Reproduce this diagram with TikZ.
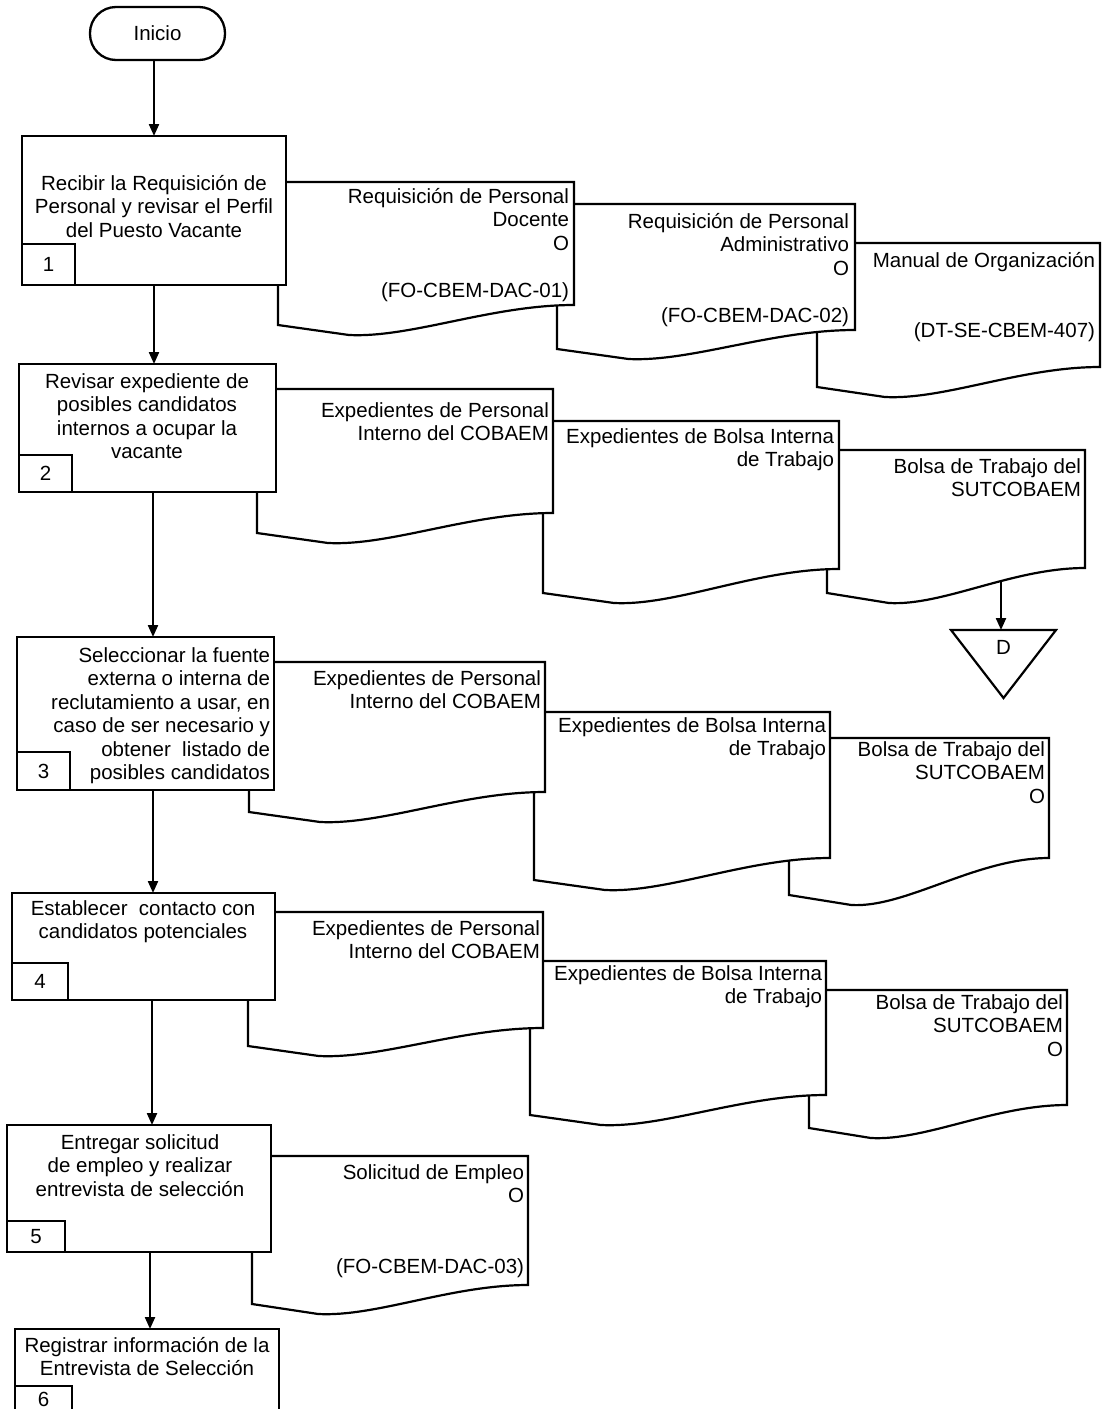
\documentclass[tikz,border=0pt]{standalone}
\usepackage{fontspec}
\setmainfont{Liberation Sans}
\usetikzlibrary{arrows.meta}

% document symbol: left, top, right, left-bottom, right-bottom
\newcommand{\docshape}[5]{%
  \pgfmathsetmacro\dw{#3-#1}%
  \path[docline] (#1,#2) -- (#3,#2) -- (#3,#5)
    .. controls ({#1+0.72*\dw},#5) and ({#1+0.45*\dw},{#4+13}) .. ({#1+0.24*\dw},{#4+10})
    -- (#1,#4) -- cycle;%
}
% process step: name, left, top, right, bottom, number-box right, number-box top, number, number centre y
\newcommand{\procstep}[9]{%
  \node[procbox, minimum width={#4-#2}, minimum height={#5-#3}] (#1) at ({(#2+#4)/2},{(#3+#5)/2}) {};%
  \path[numbox] (#2,#7) rectangle (#6,#5);%
  \node (#1n) at ({(#2+#6)/2},#9) {#8};%
}

\begin{document}
\begin{tikzpicture}[x=1pt,y=-1pt,
  every node/.style={font=\fontsize{20.5}{23.5}\selectfont, inner sep=0pt, outer sep=0pt},
  procbox/.style={draw, line width=2.5pt, fill=white, rectangle},
  numbox/.style={draw, line width=2.3pt, fill=white},
  docline/.style={draw, line width=2.2pt, fill=white, line join=miter},
  flow/.style={line width=2.2pt, -{Triangle[length=12pt,width=10pt]}},
  lbl/.style={anchor=base, align=center},
  rlbl/.style={anchor=base east, align=right},
]
\useasboundingbox[fill=white] (0,0) rectangle (1105,1409);

% start
\node[draw, line width=2.3pt, rounded corners=26pt, minimum width=135, minimum height=53] (ini) at (157.5,33.5) {Inicio};

% ---- step 1 and its documents (labels placed by their last baseline)
\docshape{817}{243}{1100}{387}{367}
\docshape{557}{204}{855}{349}{330}
\docshape{278}{182}{574}{325}{305}
\node[rlbl] (a3) at (1095,337.5) {Manual de Organización\\~\\~\\(DT-SE-CBEM-407)};
\node[rlbl] (a2) at (849,322) {Requisición de Personal\\Administrativo\\O\\~\\(FO-CBEM-DAC-02)};
\node[rlbl] (a1) at (569,297) {Requisición de Personal\\Docente\\O\\~\\(FO-CBEM-DAC-01)};
\procstep{b1}{22}{136}{286}{285}{75}{244}{1}{264.5}
\node[lbl] (b1t) at (154,237) {Recibir la Requisición de\\Personal y revisar el Perfil\\del Puesto Vacante};

% ---- step 2 and its documents
\coordinate (dout) at (1001,575);
\coordinate (dtop) at (1001,630);
\draw[flow] (dout) -- (dtop);
\docshape{827}{450}{1085}{593}{568}
\docshape{543}{421}{839}{593}{569}
\docshape{257}{389}{553}{533}{513}
\node[rlbl] (bb1) at (549,440.5) {Expedientes de Personal\\Interno del COBAEM};
\node[rlbl] (bb2) at (834,466.5) {Expedientes de Bolsa Interna\\de Trabajo};
\node[rlbl] (bb3) at (1081,496.5) {Bolsa de Trabajo del\\SUTCOBAEM};
\path[draw, line width=2.2pt, fill=white, line join=miter] (951,630) -- (1056,630) -- (1003.5,698) -- cycle;
\node (dlab) at (1003.5,647) {D};
\procstep{b2}{19}{364}{276}{492}{72}{455}{2}{473.5}
\node[lbl] (b2t) at (147,458.5) {Revisar expediente de\\posibles candidatos\\internos a ocupar la\\vacante};

% ---- step 3 and its documents
\docshape{789}{738}{1049}{895}{858}
\docshape{534}{712}{830}{880}{858}
\docshape{249}{662}{545}{812}{792}
\node[rlbl] (c1) at (541,708.5) {Expedientes de Personal\\Interno del COBAEM};
\node[rlbl] (c2) at (826,755.5) {Expedientes de Bolsa Interna\\de Trabajo};
\node[rlbl] (c3) at (1045,803) {Bolsa de Trabajo del\\SUTCOBAEM\\O};
\procstep{b3}{17}{637}{274}{790}{70}{752}{3}{771}
\node[rlbl] (b3t) at (270,779.5) {Seleccionar la fuente\\externa o interna de\\reclutamiento a usar, en\\caso de ser necesario y\\obtener\ \ listado de\\posibles candidatos};

% ---- step 4 and its documents
\docshape{809}{990}{1067}{1128}{1105}
\docshape{530}{961}{826}{1115}{1095}
\docshape{248}{912}{543}{1046}{1028}
\node[rlbl] (d1) at (540,958.5) {Expedientes de Personal\\Interno del COBAEM};
\node[rlbl] (d2) at (822,1003.5) {Expedientes de Bolsa Interna\\de Trabajo};
\node[rlbl] (d3) at (1063,1056) {Bolsa de Trabajo del\\SUTCOBAEM\\O};
\procstep{b4}{12}{893}{275}{1000}{68}{963}{4}{981.5}
\node[lbl] (b4t) at (143,938.5) {Establecer\ \ contacto con\\candidatos potenciales};

% ---- step 5 and its document
\docshape{252}{1156}{528}{1304}{1285}
\node[rlbl] (e1) at (524,1273) {Solicitud de Empleo\\O\\~\\~\\(FO-CBEM-DAC-03)};
\procstep{b5}{7}{1125}{271}{1252}{65}{1221}{5}{1236.5}
\node[lbl] (b5t) at (140,1196) {Entregar solicitud\\de empleo y realizar\\entrevista de selección};

% ---- step 6
\procstep{b6}{15}{1329}{279}{1450}{72}{1386}{6}{1399}
\node[lbl] (b6t) at (147,1375.5) {Registrar información de la\\Entrevista de Selección};

% ---- flow
\draw[flow] ([xshift=-3.5pt]ini.south) -- ([xshift=-3.5pt]ini.south |- b1.north);
\draw[flow] (b1.south) -- (b1.south |- b2.north);
\draw[flow] ([xshift=5.5pt]b2.south) -- ([xshift=5.5pt]b2.south |- b3.north);
\draw[flow] ([xshift=7.5pt]b3.south) -- ([xshift=7.5pt]b3.south |- b4.north);
\draw[flow] ([xshift=8.5pt]b4.south) -- ([xshift=8.5pt]b4.south |- b5.north);
\draw[flow] ([xshift=11pt]b5.south) -- ([xshift=11pt]b5.south |- b6.north);
\end{tikzpicture}
\end{document}
